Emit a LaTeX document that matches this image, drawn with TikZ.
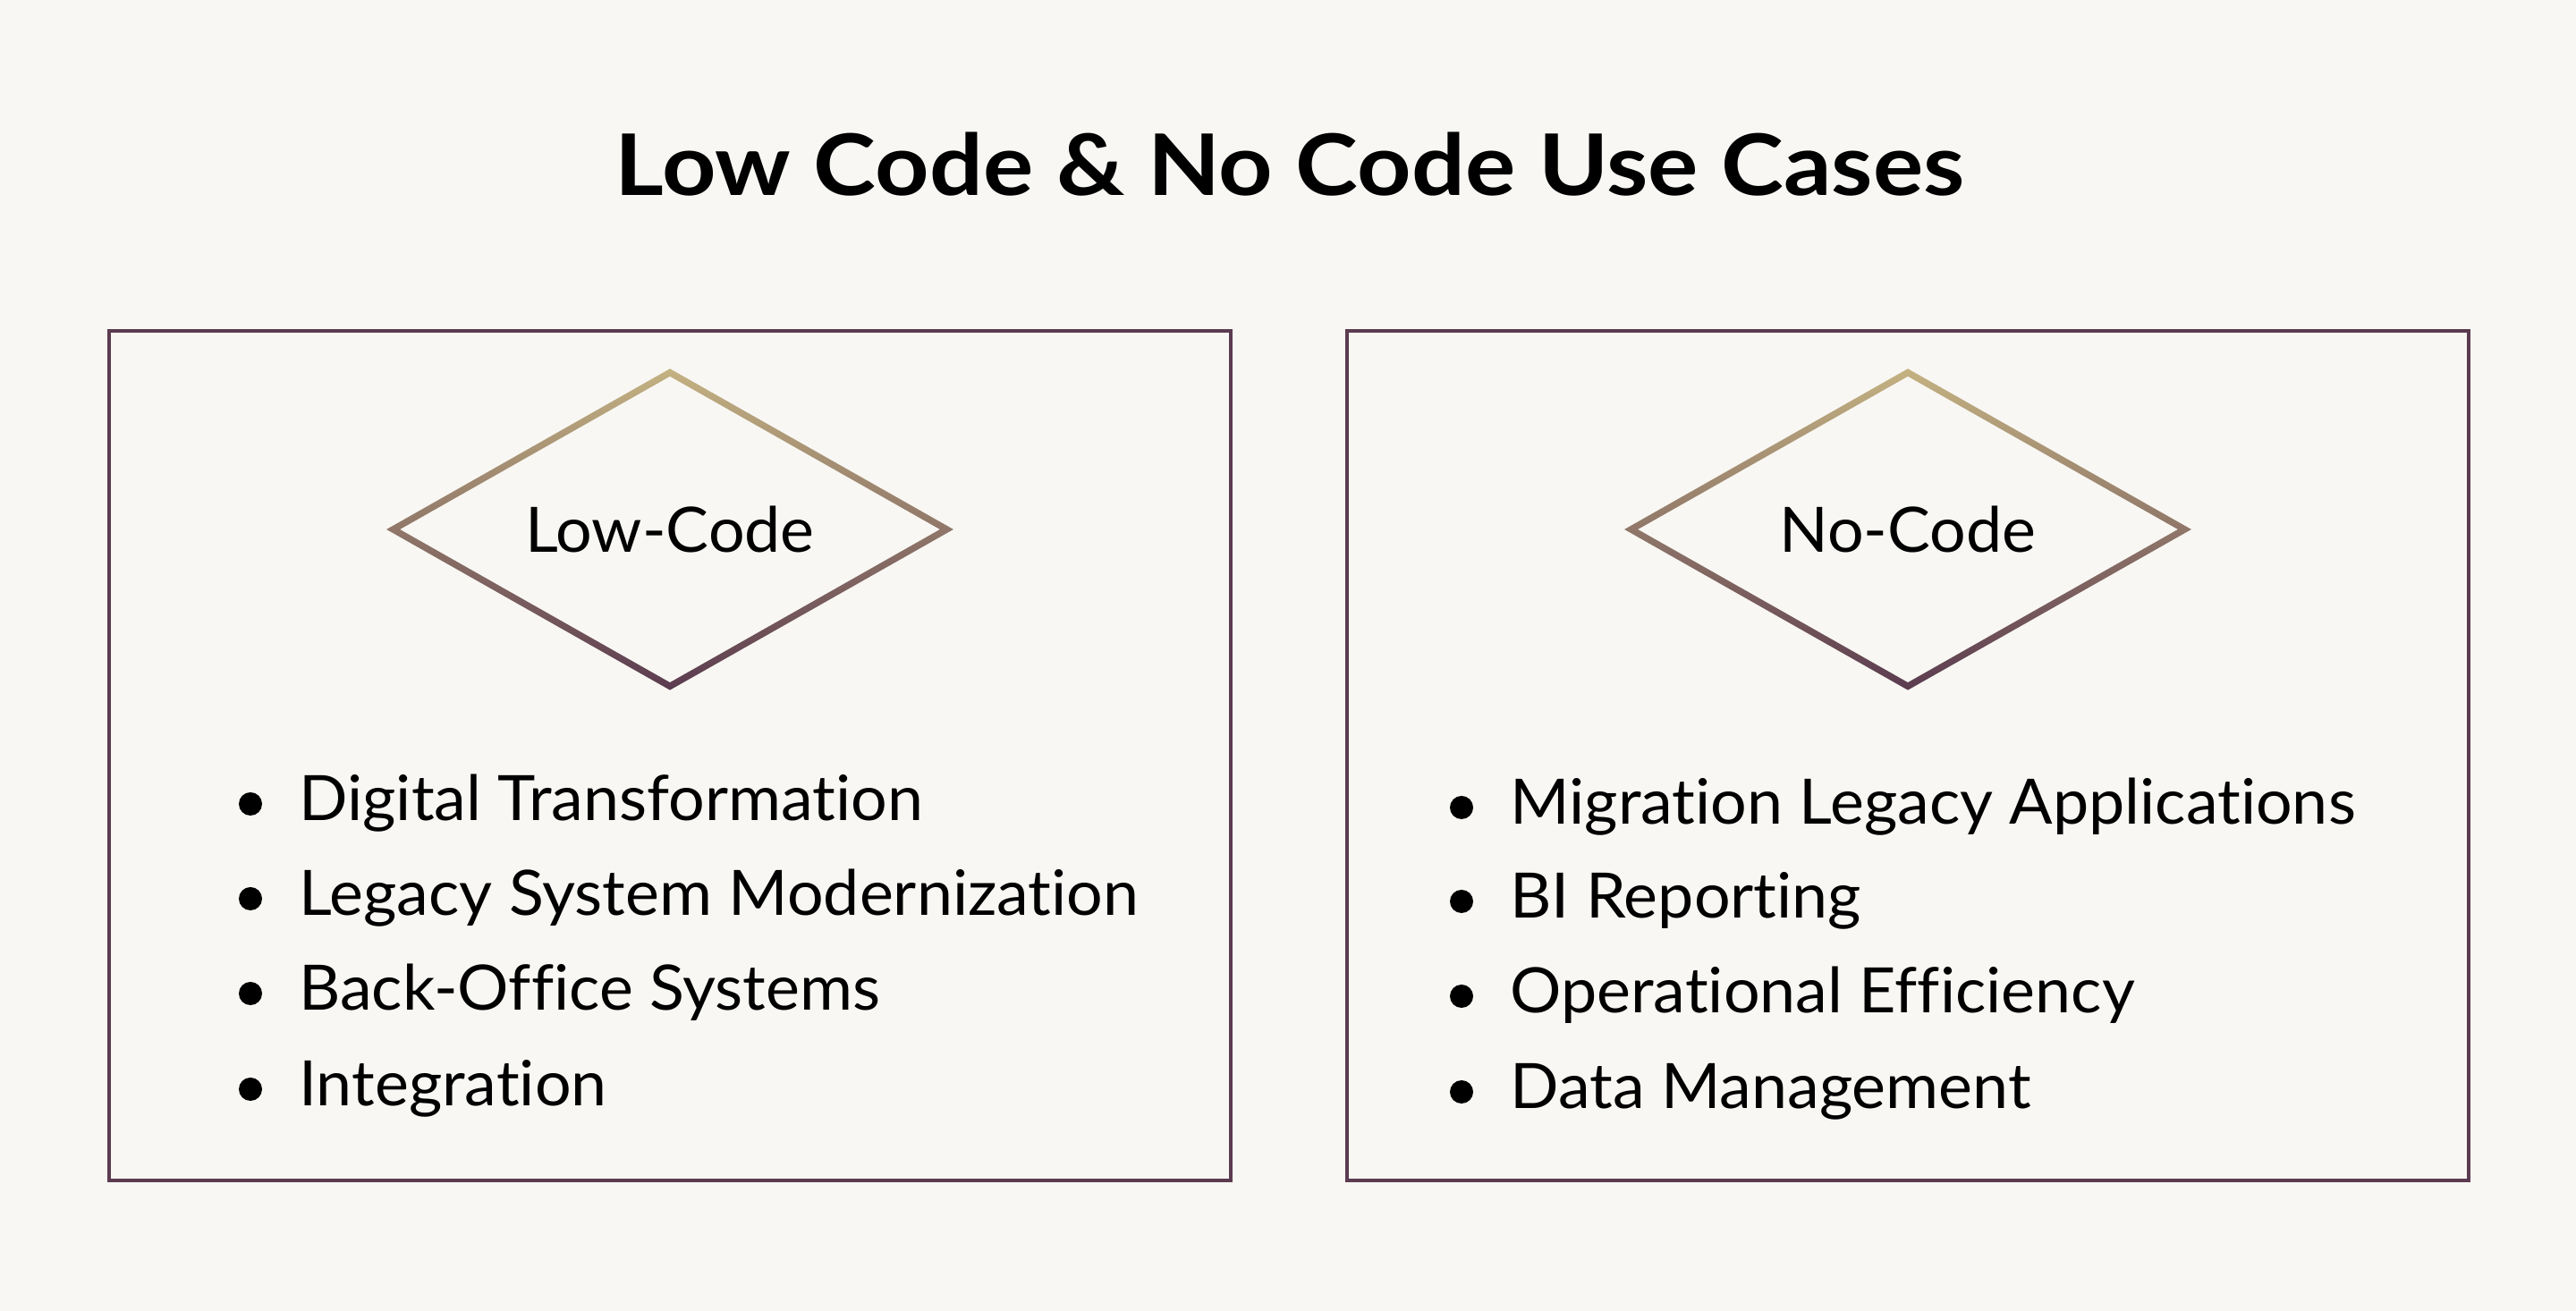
\documentclass[tikz,border=0pt]{standalone}
\usepackage{fontspec}
\setmainfont{Lato}[Ligatures=NoCommon, FakeStretch=1.025]
\newfontfamily\headfont{Lato}[Ligatures=NoCommon, FakeStretch=1.11]
\usetikzlibrary{shapes.geometric}
\definecolor{paper}{HTML}{F8F7F3}
\definecolor{plum}{HTML}{5B3B4F}
\definecolor{sand}{HTML}{C4B282}
\tikzset{
    panel/.style={draw=plum, line width=2pt, minimum width=627pt, minimum height=475pt, inner sep=0pt},
    kind/.style={diamond, aspect=1.766, minimum width=309pt, minimum height=175pt, inner sep=0pt, font=\fontsize{35}{42}\selectfont},
    item/.style={anchor=base west, inner sep=0pt, font=\fontsize{35}{42}\selectfont},
    dot/.style={circle, fill=black, minimum size=13pt, inner sep=0pt},
    rim/.style={top color=sand, bottom color=plum, even odd rule}
}
\begin{document}
\begin{tikzpicture}[x=1pt, y=1pt]
    \fill [paper] (0, 0) rectangle (1440, 733);
    \useasboundingbox (0, 0) rectangle (1440, 733);
    \node [anchor=base, font=\headfont\bfseries\fontsize{47.5}{57}\selectfont] (title) at (721, 623.5) {Low Code \& No Code Use Cases};
    \node [panel] (lowpanel) at (374.5, 310.5) {};
    \node [panel] (nopanel) at (1066.5, 310.5) {};
    \node [kind] (low) at (374.5, 437) {Low-Code};
    \node [kind] (no) at (1066.5, 437) {No-Code};
    \shade [rim] ([xshift=-3.75pt]low.west) -- ([yshift=2.13pt]low.north) -- ([xshift=3.75pt]low.east) -- ([yshift=-2.13pt]low.south) -- cycle
        ([xshift=3.75pt]low.west) -- ([yshift=-2.13pt]low.north) -- ([xshift=-3.75pt]low.east) -- ([yshift=2.13pt]low.south) -- cycle;
    \shade [rim] ([xshift=-3.75pt]no.west) -- ([yshift=2.13pt]no.north) -- ([xshift=3.75pt]no.east) -- ([yshift=-2.13pt]no.south) -- cycle
        ([xshift=3.75pt]no.west) -- ([yshift=-2.13pt]no.north) -- ([xshift=-3.75pt]no.east) -- ([yshift=2.13pt]no.south) -- cycle;
    \node [dot] (lowdot1) at (140, 283.5) {};
    \node [item] (lowitem1) at (167, 274) {Digital Transformation};
    \node [dot] (lowdot2) at (140, 230.5) {};
    \node [item] (lowitem2) at (167, 221) {Legacy System Modernization};
    \node [dot] (lowdot3) at (140, 177.5) {};
    \node [item] (lowitem3) at (167, 168) {Back-Office Systems};
    \node [dot] (lowdot4) at (140, 124) {};
    \node [item] (lowitem4) at (167, 114.5) {Integration};
    \node [dot] (nodot1) at (817, 281.5) {};
    \node [item] (noitem1) at (844, 272) {Migration Legacy Applications};
    \node [dot] (nodot2) at (817, 229) {};
    \node [item] (noitem2) at (844, 219.5) {BI Reporting};
    \node [dot] (nodot3) at (817, 176) {};
    \node [item] (noitem3) at (844, 166.5) {Operational Efficiency};
    \node [dot] (nodot4) at (817, 122.5) {};
    \node [item] (noitem4) at (844, 113) {Data Management};
\end{tikzpicture}
\end{document}
